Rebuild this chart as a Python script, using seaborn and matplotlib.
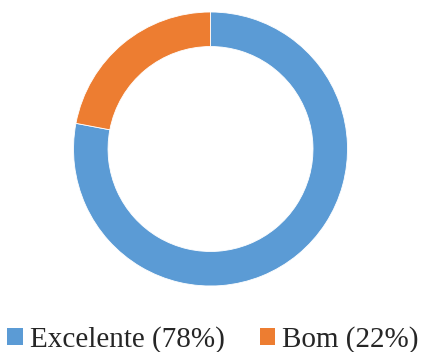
import matplotlib
matplotlib.use("Agg")
import matplotlib.pyplot as plt
import matplotlib.patches as mpatches
import seaborn as sns

# Survey rating shares
categories = ["Excelente", "Bom"]
shares = [78, 22]
legend_labels = ["Excelente (78%)", "Bom (22%)"]

sns.set_theme(style="white")
plt.rcParams["font.family"] = ["Liberation Serif", "DejaVu Serif"]
colors = ["#5B9BD5", "#ED7D31"]

fig = plt.figure(figsize=(4.22, 3.52), dpi=100)
ax = fig.add_axes([0.1742, 0.1875, 0.6493, 0.7784])
ax.pie(shares, colors=colors, startangle=90, counterclock=False,
       radius=1.0, wedgeprops=dict(width=0.252, edgecolor="white", linewidth=0.6))
ax.set_xlim(-1, 1)
ax.set_ylim(-1, 1)
ax.set_axis_off()

handles = [mpatches.Patch(facecolor=c, edgecolor="none") for c in colors]
fig.legend(handles, legend_labels, loc="center", bbox_to_anchor=(0.505, 0.035),
           ncol=2, frameon=False, fontsize=21, handlelength=0.52, handleheight=0.52,
           handletextpad=0.25, columnspacing=1.2, borderaxespad=0, borderpad=0)

fig.savefig("out.png", dpi=100, facecolor="white")
